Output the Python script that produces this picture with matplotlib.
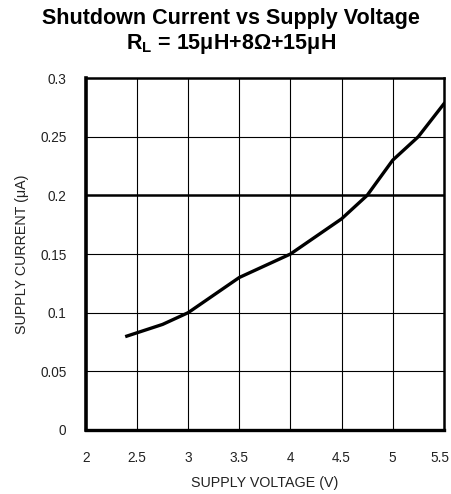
import matplotlib
matplotlib.use("Agg")
import matplotlib.pyplot as plt
import matplotlib.transforms as mtransforms

# supply voltage (V) vs shutdown supply current (uA)
voltage = [2.4, 2.75, 3.0, 3.5, 4.0, 4.5, 4.75, 5.0, 5.25, 5.5]
current = [0.080, 0.090, 0.100, 0.130, 0.150, 0.180, 0.200, 0.230, 0.250, 0.278]

x_ticks = [2, 2.5, 3, 3.5, 4, 4.5, 5, 5.5]
x_labels = ['2', '2.5', '3', '3.5', '4', '4.5', '5', '5.5']
y_ticks = [0, 0.05, 0.1, 0.15, 0.2, 0.25, 0.3]
y_labels = ['0', '0.05', '0.1', '0.15', '0.2', '0.25', '0.3']

plt.rcParams['font.family'] = ['Liberation Sans', 'DejaVu Sans']

fig = plt.figure(figsize=(4.52, 4.94), dpi=100)
ax = fig.add_axes([0.190, 0.1296, 0.792, 0.7124])

# grid drawn by hand so the 0.2 line can be heavier
for x in x_ticks[1:-1]:
    ax.axvline(x, color='black', lw=0.8, zorder=1)
for y in y_ticks[1:-1]:
    ax.axhline(y, color='black', lw=1.8 if y == 0.2 else 0.8, zorder=1)

ax.plot(voltage, current, color='black', lw=2.4, zorder=3)

ax.set_xlim(2, 5.5)
ax.set_ylim(0, 0.3)
ax.set_xticks(x_ticks)
ax.set_xticklabels(x_labels)
ax.set_yticks(y_ticks)
ax.set_yticklabels(y_labels)
ax.tick_params(length=0, labelsize=9.8, colors='#222222')
ax.tick_params(axis='x', pad=15)
ax.tick_params(axis='y', pad=14)

# pull the last x label in a bit so it stays inside the figure
last = ax.get_xticklabels()[-1]
last.set_transform(last.get_transform() + mtransforms.ScaledTranslation(-4 / 100, 0, fig.dpi_scale_trans))

ax.spines['left'].set_linewidth(2.6)
ax.spines['bottom'].set_linewidth(2.4)
ax.spines['top'].set_linewidth(1.8)
ax.spines['right'].set_linewidth(1.8)

ax.set_xlabel('SUPPLY VOLTAGE (V)', fontsize=10.3, color='#222222', labelpad=8)
ax.set_ylabel('SUPPLY CURRENT (\u03bcA)', fontsize=10.3, color='#222222', labelpad=8)

fig.text(0.511, 0.963, 'Shutdown Current vs Supply Voltage', ha='center', va='center',
         fontsize=15.5, fontweight='bold')
fig.text(0.511, 0.911, 'R$_\\mathregular{L}$ = 15\u03bcH+8\u03a9+15\u03bcH', ha='center', va='center',
         fontsize=15.5, fontweight='bold')

fig.savefig('out.png', dpi=100)
